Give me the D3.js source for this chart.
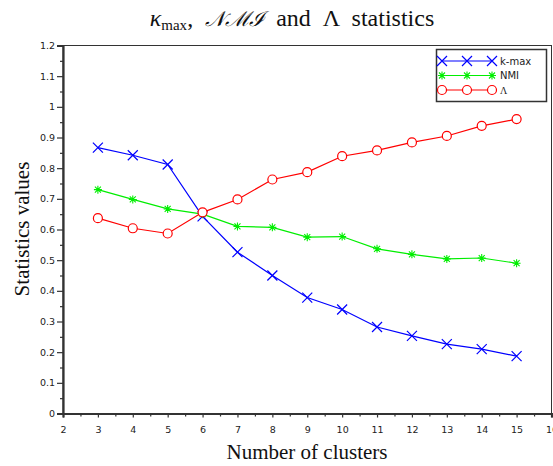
<!DOCTYPE html>
<html>
<head>
<meta charset="utf-8">
<script src="https://cdn.jsdelivr.net/npm/d3@7"></script>
<style>
  body { margin: 0; background: #fff; }
  svg { display: block; }
  .title { white-space: pre; }
</style>
</head>
<body>
<div class="chart"></div>
<script>
const clusters = [3, 4, 5, 6, 7, 8, 9, 10, 11, 12, 13, 14, 15];
const kmax = [0.867, 0.842, 0.812, 0.643, 0.526, 0.450, 0.378, 0.339, 0.282, 0.253, 0.226, 0.210, 0.187];
const nmi = [0.730, 0.698, 0.667, 0.650, 0.610, 0.607, 0.575, 0.577, 0.537, 0.519, 0.504, 0.507, 0.490];
const lambda = [0.637, 0.604, 0.587, 0.656, 0.698, 0.763, 0.787, 0.839, 0.858, 0.884, 0.905, 0.938, 0.960];
const xTicks = [2, 3, 4, 5, 6, 7, 8, 9, 10, 11, 12, 13, 14, 15, 16];
const yTicks = [0, 0.1, 0.2, 0.3, 0.4, 0.5, 0.6, 0.7, 0.8, 0.9, 1, 1.1, 1.2];

const width = 553;
const height = 466;
const plotL = 63, plotR = 551.5, plotT = 45.5, plotB = 413.5;

const svg = d3
  .select(".chart")
  .append("svg")
  .attr("width", width)
  .attr("height", height);

const x = d3.scaleLinear().domain([2, 16]).range([plotL, plotR]);
const y = d3.scaleLinear().domain([0, 1.2]).range([plotB, plotT]);

// frame
svg
  .append("rect")
  .attr("x", plotL)
  .attr("y", plotT)
  .attr("width", plotR - plotL)
  .attr("height", plotB - plotT)
  .attr("fill", "none")
  .attr("stroke", "#333")
  .attr("stroke-width", 1);

// minor ticks
const xMinor = d3.range(2.5, 16, 1);
const yMinor = d3.range(0.05, 1.2, 0.1);

svg
  .append("g")
  .attr("transform", `translate(0, ${plotB})`)
  .call(d3.axisBottom(x).tickValues(xTicks).tickSize(4).tickPadding(9).tickFormat(d3.format("d")));
svg
  .append("g")
  .attr("transform", `translate(0, ${plotB})`)
  .call(d3.axisBottom(x).tickValues(xMinor).tickSize(3).tickFormat(""))
  .select(".domain").remove();

svg
  .append("g")
  .attr("transform", `translate(${plotL}, 0)`)
  .call(d3.axisLeft(y).tickValues(yTicks).tickSize(6).tickPadding(2).tickFormat(d => String(+d.toFixed(1))));
svg
  .append("g")
  .attr("transform", `translate(${plotL}, 0)`)
  .call(d3.axisLeft(y).tickValues(yMinor).tickSize(3).tickFormat(""))
  .select(".domain").remove();

svg.selectAll(".domain").attr("stroke", "#333").attr("stroke-width", 2.2);
svg.selectAll(".tick line").attr("stroke", "#333").attr("stroke-width", 1.2);
svg
  .selectAll(".tick text")
  .attr("font-family", "DejaVu Sans")
  .attr("font-size", 9.5)
  .attr("fill", "#222");

// series
const series = [
  { name: "k-max", values: kmax, color: "#0000ff", marker: "x" },
  { name: "NMI", values: nmi, color: "#00ee00", marker: "star" },
  { name: "\u039b", values: lambda, color: "#ff0000", marker: "circle" }
];

const line = d3
  .line()
  .x(d => x(d[0]))
  .y(d => y(d[1]));

const drawMarker = (g, type, color) => {
  if (type === "x") {
    g.append("path")
      .attr("d", "M-5,-5L5,5M-5,5L5,-5")
      .attr("stroke", color)
      .attr("stroke-width", 1.2)
      .attr("fill", "none");
  } else if (type === "star") {
    g.append("path")
      .attr("d", "M-4,0L4,0M0,-4L0,4M-3,-3L3,3M-3,3L3,-3")
      .attr("stroke", color)
      .attr("stroke-width", 1.1)
      .attr("fill", "none");
  } else {
    g.append("circle")
      .attr("r", 4.5)
      .attr("stroke", color)
      .attr("stroke-width", 1.2)
      .attr("fill", "#fff");
  }
};

series.forEach(s => {
  const pts = clusters.map((c, i) => [c, s.values[i]]);
  svg
    .append("path")
    .datum(pts)
    .attr("d", line)
    .attr("fill", "none")
    .attr("stroke", s.color)
    .attr("stroke-width", 1.2);
  svg
    .selectAll(null)
    .data(pts)
    .enter()
    .append("g")
    .attr("transform", d => `translate(${x(d[0])}, ${y(d[1])})`)
    .each(function () {
      drawMarker(d3.select(this), s.marker, s.color);
    });
});

// legend
const legend = svg.append("g");
legend
  .append("rect")
  .attr("x", 436.5)
  .attr("y", 49.5)
  .attr("width", 110)
  .attr("height", 52)
  .attr("fill", "#fff")
  .attr("stroke", "#333")
  .attr("stroke-width", 1.5);
series.forEach((s, i) => {
  const ly = 61 + i * 14.5;
  legend
    .append("line")
    .attr("x1", 442)
    .attr("x2", 492)
    .attr("y1", ly)
    .attr("y2", ly)
    .attr("stroke", s.color)
    .attr("stroke-width", 1.2);
  [442, 467, 492].forEach(mx => {
    const g = legend.append("g").attr("transform", `translate(${mx}, ${ly})`);
    drawMarker(g, s.marker, s.color);
  });
  legend
    .append("text")
    .attr("x", 500)
    .attr("y", ly + 3.5)
    .attr("font-family", i === 2 ? "Liberation Serif" : "DejaVu Sans")
    .attr("font-size", 10)
    .attr("fill", "#222")
    .text(s.name);
});

// title
const title = svg
  .append("text")
  .attr("class", "title")
  .attr("x", 292)
  .attr("y", 26)
  .attr("text-anchor", "middle")
  .attr("font-family", "Liberation Serif, serif")
  .attr("font-size", 24)
  .attr("fill", "#111");
title.append("tspan").attr("font-style", "italic").text("\u03ba");
title.append("tspan").attr("font-size", 15).attr("dy", 4).text("max");
title.append("tspan").attr("dy", -4).text(",  ");
title.append("tspan").attr("font-family", "DejaVu Serif, serif").attr("font-size", 21).attr("font-style", "italic").text("\ud835\udca9\u2133\u2110");
title.append("tspan").text("  and  \u039b  statistics");

// axis labels
svg
  .append("text")
  .attr("x", 307)
  .attr("y", 459)
  .attr("text-anchor", "middle")
  .attr("font-family", "Liberation Serif, serif")
  .attr("font-size", 21)
  .attr("fill", "#111")
  .text("Number of clusters");

svg
  .append("text")
  .attr("transform", "translate(29, 229) rotate(-90)")
  .attr("text-anchor", "middle")
  .attr("font-family", "Liberation Serif, serif")
  .attr("font-size", 21)
  .attr("fill", "#111")
  .text("Statistics values");
</script>
</body>
</html>
